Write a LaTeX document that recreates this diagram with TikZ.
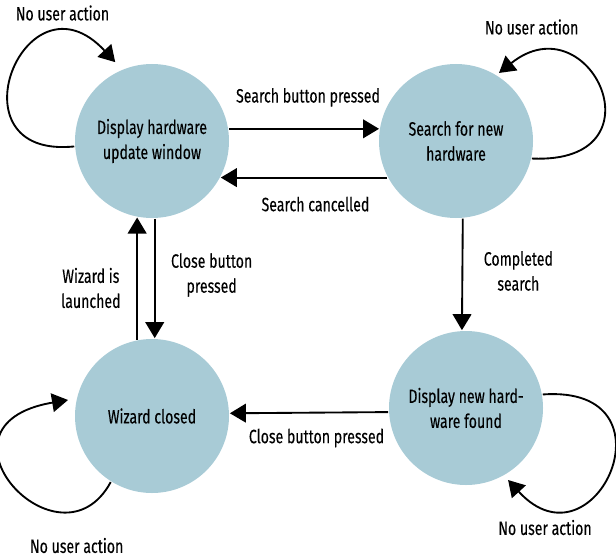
\documentclass[tikz,border=0pt]{standalone}
\usepackage{fontspec}
\setmainfont[FakeStretch=0.73, FakeBold=0.2]{Fira Sans}
\usetikzlibrary{arrows.meta,calc}
\definecolor{stateblue}{RGB}{168,203,214}

\begin{document}
\begin{tikzpicture}[x=0.75pt, y=0.75pt, >={Triangle[length=12pt, width=14pt]},
  line width=1.4pt, font=\fontsize{14.5}{18.75}\selectfont,
  state/.style={circle, fill=stateblue, minimum size=115.5pt, inner sep=0pt, align=center},
  trans label/.style={align=center, midway}]

  \useasboundingbox (0,0) rectangle (616,558);

  \node [state] (display) at (152,417) {Display hardware\\update window};
  \node [state] (search)  at (456,417) {Search for new\\hardware};
  \node [state] (closed)  at (152,142) {Wizard closed};
  \node [state] (found)   at (466,150) {Display new hard-\\ware found};

  \draw [->] (display.9) -- (search.171)
    node [trans label, xshift=3pt, yshift=23.6pt] (lbl-search) {Search button pressed};
  \draw [->] (search.208.3) -- (display.-28.3)
    node [trans label, xshift=8.6pt, yshift=-19.9pt] (lbl-cancel) {Search cancelled};
  \draw [->] (display.-88) -- (closed.88)
    node [trans label, xshift=42.7pt, yshift=2.6pt] (lbl-close) {Close button\\pressed};
  \draw [->] (closed.101) -- (display.-101)
    node [trans label, xshift=-34.7pt, yshift=-7.1pt] (lbl-wizard) {Wizard is\\launched};
  \draw [->] (search.-85.5) -- (found.93)
    node [trans label, xshift=42pt, yshift=2.6pt] (lbl-completed) {Completed\\search};
  \draw [->] (found.183.5) -- (closed.2.5)
    node [trans label, xshift=5.6pt, yshift=-19pt] (lbl-found) {Close button pressed};

  % self loops
  \draw [->] (display.184.5) .. controls +(-127,-13) and +(-90,97) .. ($(display.center)+(115:87)$);
  \draw [->] (search.-13.5) .. controls +(134,-6) and +(91,73) .. ($(search.center)+(57.7:80.5)$);
  \draw [->] (closed.238) .. controls +(-51,-94) and +(-148,-25) .. ($(closed.center)+(169.2:85.5)$);
  \draw [->] (found.10) .. controls +(138,10) and +(87,-95) .. ($(found.center)+(-59.7:83.4)$);

  \foreach \s/\x/\y in {display/62.5/545, search/531.7/531, closed/76.7/12.5, found/545/30.5}
    \node (loop-\s) at (\x,\y) {No user action};

\end{tikzpicture}
\end{document}
